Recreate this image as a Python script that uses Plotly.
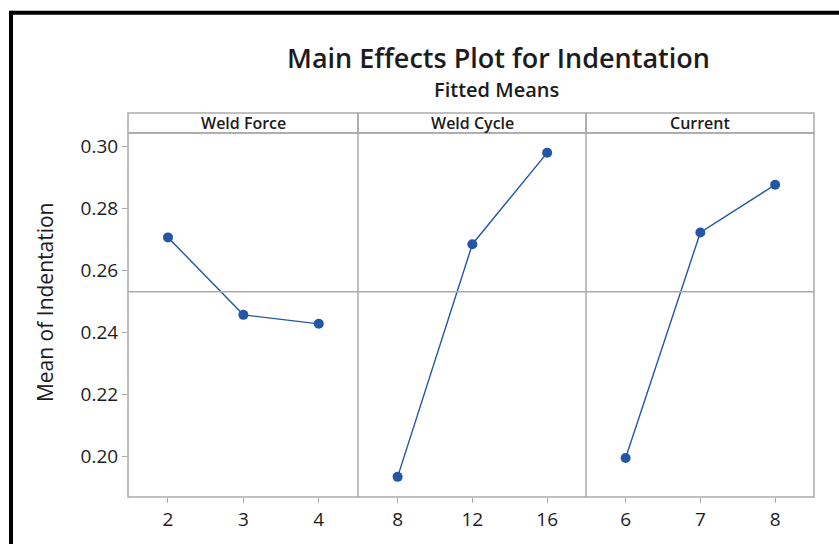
import plotly.graph_objects as go
from plotly.subplots import make_subplots

# Factor levels and fitted means of Indentation
factors = ["Weld Force", "Weld Cycle", "Current"]
weld_force_levels = [2, 3, 4]
weld_force_means = [0.2707, 0.2457, 0.2428]
weld_cycle_levels = [8, 12, 16]
weld_cycle_means = [0.1934, 0.2685, 0.2980]
current_levels = [6, 7, 8]
current_means = [0.1995, 0.2723, 0.2877]
y_ticks = [0.20, 0.22, 0.24, 0.26, 0.28, 0.30]

levels = [weld_force_levels, weld_cycle_levels, current_levels]
means = [weld_force_means, weld_cycle_means, current_means]

all_means = weld_force_means + weld_cycle_means + current_means
grand_mean = sum(all_means) / len(all_means)

W, H = 839, 544
L, R, T, B = 128, 814, 133, 499
pw, ph = R - L, B - T

FONT = "Open Sans"
TXT = "#1c1c1c"
GRID = "#aaaaaa"
BLUE = "#2356a6"


def px(x):
    return (x - L) / pw


def py(y):
    return (B - y) / ph


fig = make_subplots(rows=1, cols=3, shared_yaxes=True, horizontal_spacing=0)

bounds = [128, 358, 586, 814]
for i in range(3):
    lv, mv = levels[i], means[i]
    step = lv[1] - lv[0]
    fig.add_trace(
        go.Scatter(
            x=lv, y=mv, mode="lines+markers",
            line=dict(color=BLUE, width=1.4),
            marker=dict(color=BLUE, size=10),
            showlegend=False, hoverinfo="x+y",
        ),
        row=1, col=i + 1,
    )
    fig.update_xaxes(
        domain=[px(bounds[i]), px(bounds[i + 1])],
        range=[lv[0] - 0.53 * step, lv[-1] + 0.52 * step],
        tickvals=lv, ticktext=[str(v) for v in lv],
        showgrid=False, zeroline=False, showline=False,
        ticks="outside", ticklen=5, tickcolor=GRID, tickwidth=1,
        tickfont=dict(family=FONT, size=19, color=TXT, weight=500),
        row=1, col=i + 1,
    )

fig.update_yaxes(
    range=[0.1869, 0.3044],
    tickvals=y_ticks, ticktext=[f"{v:.2f}" for v in y_ticks],
    showgrid=False, zeroline=False, showline=False,
    ticks="", tickfont=dict(family=FONT, size=19, color=TXT, weight=500),
)
fig.update_yaxes(ticks="outside", ticklen=5, tickcolor=GRID, tickwidth=1, row=1, col=1)

shapes = []
# grand mean reference line across all panels
shapes.append(dict(type="line", xref="paper", yref="y", x0=0, x1=1,
                   y0=grand_mean, y1=grand_mean, line=dict(color=GRID, width=1.5)))
# frame around the panels and the dividers between them
shapes.append(dict(type="rect", xref="paper", yref="paper", x0=0, x1=1, y0=0, y1=1,
                   line=dict(color=GRID, width=1.5)))
for b in bounds[1:-1]:
    shapes.append(dict(type="line", xref="paper", yref="paper", x0=px(b), x1=px(b),
                       y0=0, y1=1, line=dict(color=GRID, width=1.5)))
# panel header strips
hy0, hy1 = 1.0, py(113)
annotations = []
for i, name in enumerate(factors):
    x0, x1 = px(bounds[i]), px(bounds[i + 1])
    shapes.append(dict(type="rect", xref="paper", yref="paper", x0=x0, x1=x1,
                       y0=hy0, y1=hy1, line=dict(color=GRID, width=1.5)))
    annotations.append(dict(xref="paper", yref="paper", x=(x0 + x1) / 2,
                            y=(hy0 + hy1) / 2, text=name, showarrow=False,
                            xanchor="center", yanchor="middle",
                            font=dict(family=FONT, size=16, color=TXT, weight=600)))
# outer frame (top and left edges)
shapes.append(dict(type="line", xref="paper", yref="paper", x0=px(11), x1=px(845),
                   y0=py(12), y1=py(12), line=dict(color="black", width=4)))
shapes.append(dict(type="line", xref="paper", yref="paper", x0=px(11), x1=px(11),
                   y0=py(10), y1=py(560), line=dict(color="black", width=4)))

annotations += [
    dict(xref="paper", yref="paper", x=px(498), y=py(57),
         text="Main Effects Plot for Indentation", showarrow=False,
         xanchor="center", yanchor="middle",
         font=dict(family=FONT, size=27, color=TXT, weight=600)),
    dict(xref="paper", yref="paper", x=px(497), y=py(89),
         text="Fitted Means", showarrow=False,
         xanchor="center", yanchor="middle",
         font=dict(family=FONT, size=20, color=TXT, weight=600)),
    dict(xref="paper", yref="paper", x=px(45), y=py(303),
         text="Mean of Indentation", showarrow=False, textangle=-90,
         xanchor="center", yanchor="middle",
         font=dict(family=FONT, size=21, color=TXT, weight=500)),
]

fig.update_layout(
    width=W, height=H,
    margin=dict(l=L, r=W - R, t=T, b=H - B, pad=0),
    paper_bgcolor="white", plot_bgcolor="white",
    shapes=shapes, annotations=annotations,
    showlegend=False,
)

fig.write_html("out.html")
